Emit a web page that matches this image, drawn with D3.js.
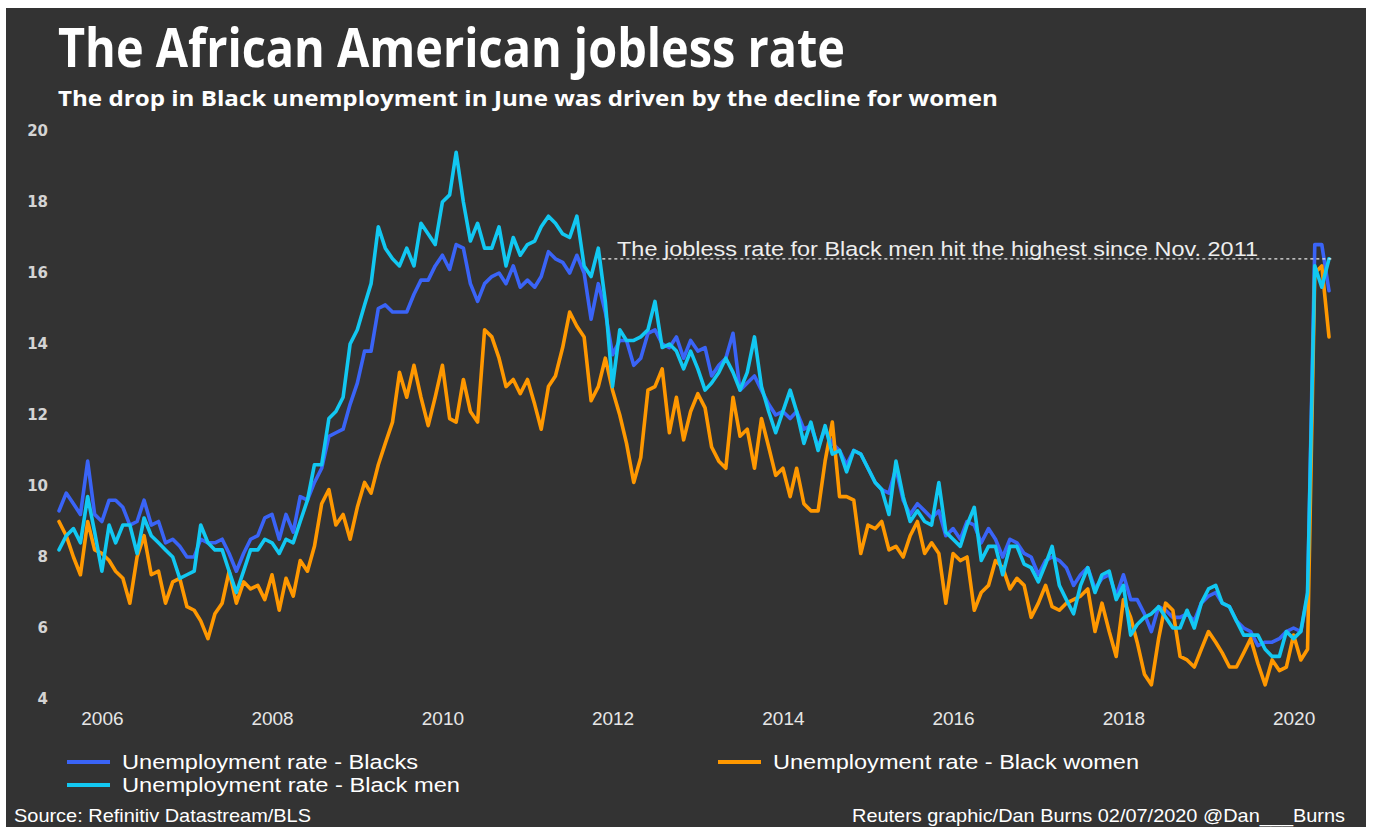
<!DOCTYPE html>
<html>
<head>
<meta charset="utf-8">
<script src="https://cdn.jsdelivr.net/npm/d3@7"></script>
<style>
  html, body { margin: 0; padding: 0; background: #ffffff; }
  svg { display: block; }
</style>
</head>
<body>
<svg id="chart" width="1373" height="827"></svg>
<script>
// Monthly unemployment rates (%), July 2005 to June 2020
const firstMonth = "2005-07";

const blacks = [
  9.3, 9.8, 9.5, 9.2, 10.7, 9.2,
  9.0, 9.6, 9.6, 9.4, 8.9, 9.0, 9.6, 8.9, 9.0, 8.4, 8.5, 8.3,
  8.0, 8.0, 8.5, 8.4, 8.4, 8.5, 8.1, 7.6, 8.1, 8.5, 8.6, 9.1,
  9.2, 8.5, 9.2, 8.7, 9.7, 9.6, 10.1, 10.5, 11.4, 11.5, 11.6, 12.3,
  12.9, 13.8, 13.8, 15.0, 15.1, 14.9, 14.9, 14.9, 15.4, 15.8, 15.8, 16.2,
  16.5, 16.1, 16.8, 16.7, 15.7, 15.2, 15.7, 15.9, 16.0, 15.7, 16.2, 15.6,
  15.8, 15.6, 15.9, 16.6, 16.4, 16.3, 16.0, 16.5, 16.0, 14.7, 15.7, 14.9,
  13.7, 14.1, 14.1, 13.4, 13.6, 14.3, 14.4, 14.0, 13.9, 14.2, 13.6, 14.1,
  13.8, 13.9, 13.1, 13.4, 13.6, 14.3, 12.7, 12.9, 13.1, 12.7, 12.3, 12.0,
  12.1, 11.9, 12.1, 11.6, 11.7, 11.1, 11.6, 11.2, 11.0, 10.6, 11.0, 10.9,
  10.5, 10.1, 9.9, 9.8, 10.5, 9.6, 9.2, 9.5, 9.3, 9.1, 9.3, 8.6,
  8.8, 8.5, 9.0, 8.9, 8.4, 8.8, 8.5, 8.0, 8.5, 8.4, 8.1, 8.0,
  7.5, 7.9, 8.0, 7.9, 7.7, 7.2, 7.5, 7.7, 7.1, 7.4, 7.5, 6.9,
  7.5, 6.8, 6.8, 6.4, 5.9, 6.6, 6.5, 6.3, 6.3, 6.4, 6.2, 6.7,
  6.9, 7.0, 6.7, 6.6, 6.2, 6.0, 5.9, 5.5, 5.6, 5.6, 5.7, 5.9,
  6.0, 5.9, 6.9, 16.8, 16.8, 15.5
];

const blackWomen = [
  9.0, 8.6, 8.0, 7.5, 9.0, 8.2,
  8.1, 7.9, 7.6, 7.4, 6.7, 8.0, 8.6, 7.5, 7.6, 6.7, 7.3, 7.4,
  6.6, 6.5, 6.2, 5.7, 6.4, 6.7, 7.6, 6.7, 7.3, 7.1, 7.2, 6.8,
  7.5, 6.5, 7.4, 6.9, 7.9, 7.6, 8.3, 9.5, 9.9, 8.9, 9.2, 8.5,
  9.4, 10.1, 9.8, 10.6, 11.2, 11.8, 13.2, 12.5, 13.4, 12.5, 11.7, 12.5,
  13.4, 11.9, 11.8, 13.0, 12.1, 11.8, 14.4, 14.2, 13.6, 12.8, 13.0, 12.6,
  13.0, 12.3, 11.6, 12.8, 13.1, 13.9, 14.9, 14.5, 14.2, 12.4, 12.8, 13.6,
  12.7, 12.0, 11.2, 10.1, 10.8, 12.7, 12.8, 13.3, 11.5, 12.5, 11.3, 12.1,
  12.6, 12.2, 11.1, 10.7, 10.5, 12.5, 11.4, 11.6, 10.5, 11.9, 11.1, 10.3,
  10.5, 9.7, 10.5, 9.5, 9.3, 9.3, 10.7, 11.8, 9.7, 9.7, 9.6, 8.1,
  8.9, 8.8, 9.0, 8.2, 8.3, 8.0, 8.6, 9.0, 8.1, 8.4, 8.1, 6.7,
  8.1, 7.9, 8.0, 6.5, 7.0, 7.2, 7.9, 7.7, 7.1, 7.4, 7.2, 6.3,
  6.7, 7.2, 6.6, 6.5, 6.7, 6.8, 6.9, 7.1, 5.9, 6.7, 5.9, 5.2,
  6.8, 6.3, 5.6, 4.7, 4.4, 5.7, 6.7, 6.5, 5.2, 5.1, 4.9, 5.4,
  5.9, 5.6, 5.3, 4.9, 4.9, 5.3, 5.7, 5.0, 4.4, 5.1, 4.8, 4.9,
  5.8, 5.1, 5.4, 16.0, 16.2, 14.2
];

const blackMen = [
  8.2, 8.6, 8.8, 8.4, 9.7, 8.7,
  7.6, 8.9, 8.4, 8.9, 8.9, 8.1, 9.1, 8.6, 8.4, 8.2, 8.0, 7.4,
  7.5, 7.6, 8.9, 8.4, 8.2, 8.2, 7.6, 7.0, 7.6, 8.2, 8.2, 8.5,
  8.4, 8.1, 8.5, 8.4, 9.0, 9.6, 10.6, 10.6, 11.9, 12.1, 12.5, 14.0,
  14.4, 15.1, 15.7, 17.3, 16.7, 16.4, 16.2, 16.7, 16.2, 17.4, 17.1, 16.8,
  18.0, 18.2, 19.4, 18.0, 16.9, 17.4, 16.7, 16.7, 17.3, 16.2, 17.0, 16.5,
  16.8, 16.9, 17.3, 17.6, 17.4, 17.1, 17.0, 17.6, 16.2, 15.9, 16.7, 15.2,
  12.8, 14.4, 14.1, 14.1, 14.2, 14.4, 15.2, 13.9, 14.0, 13.8, 13.3, 13.8,
  13.3, 12.7, 12.9, 13.2, 13.6, 13.2, 12.7, 13.2, 14.2, 12.8, 12.1, 11.5,
  12.1, 12.7, 12.1, 11.2, 11.8, 11.0, 11.7, 10.9, 11.0, 10.4, 11.0, 10.9,
  10.5, 10.1, 9.9, 9.2, 10.7, 9.7, 9.0, 9.3, 9.0, 8.9, 10.1, 8.7,
  8.5, 8.3, 8.9, 9.4, 7.9, 8.3, 8.3, 7.5, 8.3, 8.3, 7.8, 7.7,
  7.3, 7.8, 8.3, 7.2, 6.8, 6.4, 7.2, 7.7, 7.0, 7.5, 7.6, 6.8,
  7.2, 5.8, 6.1, 6.3, 6.4, 6.6, 6.3, 6.0, 6.0, 6.5, 6.0, 6.7,
  7.1, 7.2, 6.7, 6.6, 6.2, 5.8, 5.8, 5.8, 5.4, 5.2, 5.2, 5.9,
  5.7, 5.9, 7.0, 16.2, 15.6, 16.4
];

const seriesNames = [
  "Unemployment rate - Blacks",
  "Unemployment rate - Black women",
  "Unemployment rate - Black men"
];
const yearTicks = [2006, 2008, 2010, 2012, 2014, 2016, 2018, 2020];
const rateTicks = [4, 6, 8, 10, 12, 14, 16, 18, 20];

// Reference level: Black men's rate in June 2020, last matched in Nov. 2011
const refStart = "2011-11";
const refLevel = 16.4;
const refNote = "The jobless rate for Black men hit the highest since Nov. 2011";

const titleText = "The African American jobless rate";
const subtitleText = "The drop in Black unemployment in June was driven by the decline for women";
const sourceText = "Source: Refinitiv Datastream/BLS";
const creditText = "Reuters graphic/Dan Burns 02/07/2020 @Dan___Burns";

// ---- build series ----
const parseMonth = d3.timeParse("%Y-%m");
const start = parseMonth(firstMonth);
const months = blacks.map((_, i) => d3.timeMonth.offset(start, i));

const palette = { blacks: "#3a64f7", women: "#ff9800", men: "#12c8f2" };
const series = [
  { name: seriesNames[0], values: blacks, color: palette.blacks },
  { name: seriesNames[1], values: blackWomen, color: palette.women },
  { name: seriesNames[2], values: blackMen, color: palette.men }
];

const svg = d3.select("#chart");
const W = 1373, H = 827;

// dark panel
svg.append("rect")
  .attr("x", 6).attr("y", 8)
  .attr("width", 1360).attr("height", H - 8)
  .attr("fill", "#333333");

// scales
const x = d3.scaleTime()
  .domain([months[0], months[months.length - 1]])
  .range([59, 1329]);
const y = d3.scaleLinear()
  .domain([4, 20])
  .range([699, 131]);

// titles
svg.append("text")
  .attr("x", 58).attr("y", 67)
  .attr("fill", "#ffffff")
  .attr("font-family", "'Open Sans', 'Noto Sans', sans-serif")
  .attr("font-weight", 700)
  .attr("font-size", 53)
  .attr("textLength", 787)
  .attr("lengthAdjust", "spacingAndGlyphs")
  .text(titleText);

svg.append("text")
  .attr("x", 58).attr("y", 106)
  .attr("fill", "#ffffff")
  .attr("font-family", "'Open Sans', 'Noto Sans', sans-serif")
  .attr("font-weight", 700)
  .attr("font-size", 21)
  .attr("textLength", 940)
  .attr("lengthAdjust", "spacingAndGlyphs")
  .text(subtitleText);

// y axis (labels only)
const yAxis = svg.append("g")
  .attr("transform", "translate(48,0)")
  .call(d3.axisLeft(y).tickValues(rateTicks).tickSize(0).tickPadding(0).tickFormat(d3.format("d")));
yAxis.select(".domain").remove();
yAxis.selectAll("text")
  .attr("fill", "#d4d4d4")
  .attr("font-family", "'DejaVu Sans', Verdana, sans-serif")
  .attr("font-weight", 700)
  .attr("font-size", 15);

// x axis (labels only)
const xAxis = svg.append("g")
  .attr("transform", "translate(0,711)")
  .call(d3.axisBottom(x)
    .tickValues(yearTicks.map(yr => new Date(yr, 0, 1)))
    .tickSize(0).tickPadding(0)
    .tickFormat(d3.timeFormat("%Y")));
xAxis.select(".domain").remove();
xAxis.selectAll("text")
  .attr("fill", "#e6e6e6")
  .attr("font-family", "'Liberation Sans', Arial, sans-serif")
  .attr("font-size", 19);

// lines
const line = d3.line()
  .x((d, i) => x(months[i]))
  .y(d => y(d));

svg.append("g")
  .selectAll("path")
  .data(series)
  .join("path")
  .attr("d", d => line(d.values))
  .attr("fill", "none")
  .attr("stroke", d => d.color)
  .attr("stroke-width", 3.6)
  .attr("stroke-linejoin", "round")
  .attr("stroke-linecap", "round");

// reference dashed line and note
const refX0 = x(parseMonth(refStart));
const refX1 = x(months[months.length - 1]) + 4;
svg.append("line")
  .attr("x1", refX0 + 4).attr("x2", refX1)
  .attr("y1", y(refLevel)).attr("y2", y(refLevel))
  .attr("stroke", "#e8e8e8")
  .attr("stroke-width", 1.2)
  .attr("stroke-dasharray", "3,3");

svg.append("text")
  .attr("x", 617).attr("y", y(refLevel) - 3)
  .attr("fill", "#eeeeee")
  .attr("font-family", "'Liberation Sans', Arial, sans-serif")
  .attr("font-size", 20.5)
  .attr("textLength", 641)
  .attr("lengthAdjust", "spacingAndGlyphs")
  .text(refNote);

// legend
const legendItems = [
  { s: series[0], x: 67, y: 762, w: 296 },
  { s: series[2], x: 67, y: 785, w: 338 },
  { s: series[1], x: 718, y: 762, w: 366 }
];
const lg = svg.append("g").selectAll("g").data(legendItems).join("g");
lg.append("line")
  .attr("x1", d => d.x).attr("x2", d => d.x + 43)
  .attr("y1", d => d.y).attr("y2", d => d.y)
  .attr("stroke", d => d.s.color)
  .attr("stroke-width", 4);
lg.append("text")
  .attr("x", d => d.x + 55).attr("y", d => d.y + 7)
  .attr("fill", "#ffffff")
  .attr("font-family", "'Liberation Sans', Arial, sans-serif")
  .attr("font-size", 20)
  .attr("textLength", d => d.w)
  .attr("lengthAdjust", "spacingAndGlyphs")
  .text(d => d.s.name);

// footer
svg.append("text")
  .attr("x", 14).attr("y", 822)
  .attr("fill", "#ffffff")
  .attr("font-family", "'Liberation Sans', Arial, sans-serif")
  .attr("font-size", 19)
  .attr("textLength", 297)
  .attr("lengthAdjust", "spacingAndGlyphs")
  .text(sourceText);

svg.append("text")
  .attr("x", 852).attr("y", 822)
  .attr("fill", "#ffffff")
  .attr("font-family", "'Liberation Sans', Arial, sans-serif")
  .attr("font-size", 19)
  .attr("textLength", 493)
  .attr("lengthAdjust", "spacingAndGlyphs")
  .text(creditText);
</script>
</body>
</html>
